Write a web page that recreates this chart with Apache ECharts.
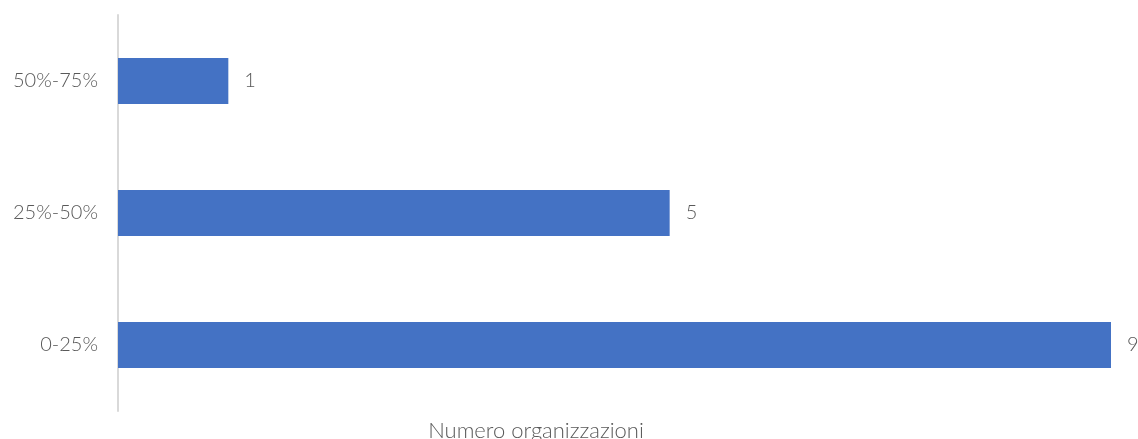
<!DOCTYPE html>
<html>
<head>
<meta charset="utf-8">
<script src="https://cdn.jsdelivr.net/npm/echarts@6/dist/echarts.min.js"></script>
<style>
  html, body { margin: 0; padding: 0; background: #fff; }
  #chart { width: 1138px; height: 439px; }
</style>
</head>
<body>
<div id="chart"></div>
<script>
// categories bottom to top, as on the y axis
const categories = ['0-25%', '25%-50%', '50%-75%'];
const values = [9, 5, 1];
const axisTitle = 'Numero organizzazioni';

const chart = echarts.init(document.getElementById('chart'));
const textColor = '#595959';
const fontFamily = 'Lato, "Noto Sans", sans-serif';

chart.setOption({
    backgroundColor: '#fff',
    animation: false,
    grid: { left: 118, right: 27, top: 15, bottom: 28 },
    xAxis: {
        type: 'value',
        min: 0,
        max: 9,
        show: false
    },
    yAxis: {
        type: 'category',
        data: categories,
        axisLine: { show: true, lineStyle: { color: '#d9d9d9', width: 2 } },
        axisTick: { show: false },
        axisLabel: {
            color: textColor,
            fontSize: 20,
            fontWeight: 300,
            fontFamily: fontFamily,
            margin: 20
        }
    },
    graphic: [{
        type: 'text',
        x: 536,
        y: 431,
        style: {
            text: axisTitle,
            fill: textColor,
            font: '300 22px ' + fontFamily,
            align: 'center',
            verticalAlign: 'middle'
        }
    }],
    series: [{
        type: 'bar',
        data: values,
        barWidth: '35%',
        itemStyle: { color: '#4472c4' },
        label: {
            show: true,
            position: 'right',
            distance: 16,
            color: textColor,
            fontSize: 20,
            fontWeight: 300,
            fontFamily: fontFamily
        }
    }]
});
</script>
</body>
</html>
